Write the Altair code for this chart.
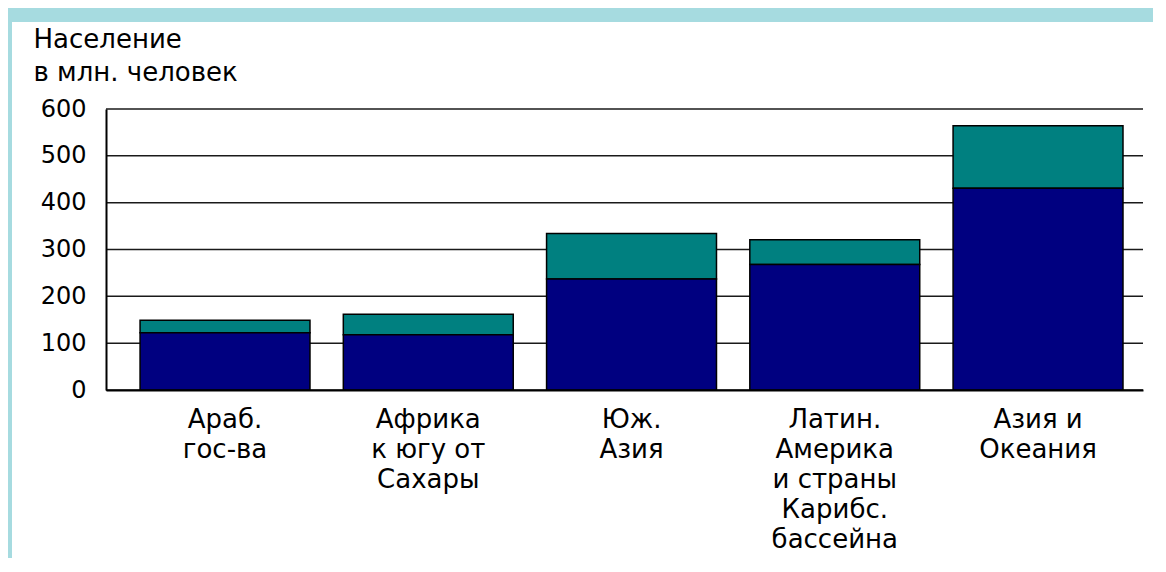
import altair as alt
import pandas as pd

# ---- data ----
categories = [
    "Араб.|гос-ва",
    "Африка|к югу от|Сахары",
    "Юж.|Азия",
    "Латин.|Америка|и страны|Карибс.|бассейна",
    "Азия и|Океания",
]
lower_values = [122, 118, 237, 268, 431]   # navy part
total_values = [149, 162, 334, 321, 564]   # top of teal part
y_ticks = [0, 100, 200, 300, 400, 500, 600]
title_lines = ["Население", "в млн. человек"]

df = pd.DataFrame({"cat": categories, "low": lower_values, "total": total_values})
grid_df = pd.DataFrame({"v": y_ticks})
panel_df = pd.DataFrame({"p": [0]})

W, H = 1037, 281
FONT = "DejaVu Sans"

xscale = alt.Scale(paddingInner=0.164, paddingOuter=0.133, align=0.63)
yscale = alt.Scale(domain=[0, 600], nice=False)

xaxis = alt.Axis(
    title=None, labelAngle=0, labelAlign="center", labelBaseline="top",
    labelPadding=16, labelExpr="split(datum.label, '|')", labelLineHeight=30,
    labelFontSize=26, labelFont=FONT, labelColor="black", ticks=False,
    domainColor="black", domainWidth=2, grid=False, zindex=1,
)
yaxis = alt.Axis(
    title=title_lines, titleAngle=0, titleAlign="left", titleBaseline="top",
    titleX=-73, titleY=-83, titleFont=FONT, titleFontSize=26,
    titleFontWeight="normal", titleColor="black", titleLineHeight=33,
    values=y_ticks, ticks=False, labelPadding=20, labelFontSize=24,
    labelFont=FONT, labelColor="black", domainColor="black", domainWidth=2,
    grid=False, zindex=1,
)

panel = alt.Chart(panel_df).mark_rect(color="white").encode(
    x=alt.value(-94), x2=alt.value(1070), y=alt.value(-87), y2=alt.value(480)
)

grid = alt.Chart(grid_df).mark_rule(color="#1a1a1a", strokeWidth=1.5).encode(
    y=alt.Y("v:Q", scale=yscale, axis=yaxis)
)

teal = alt.Chart(df).mark_bar(color="#008080", stroke="black", strokeWidth=1.5).encode(
    x=alt.X("cat:N", sort=categories, scale=xscale, axis=xaxis),
    y=alt.Y("low:Q", scale=yscale, axis=yaxis),
    y2="total:Q",
)

navy = alt.Chart(df).mark_bar(color="#000080", stroke="black", strokeWidth=1.5).encode(
    x=alt.X("cat:N", sort=categories, scale=xscale, axis=xaxis),
    y=alt.Y("low:Q", scale=yscale, axis=yaxis),
)

chart = alt.layer(panel, grid, teal, navy).properties(
    width=W, height=H,
    autosize=alt.AutoSizeParams(type="none"),
    padding={"left": 98, "top": 101, "right": 10, "bottom": 168},
    background="#a6dbe0",
).configure_view(stroke=None)

chart.save("out.html", embed_options={"renderer": "svg", "actions": False})
